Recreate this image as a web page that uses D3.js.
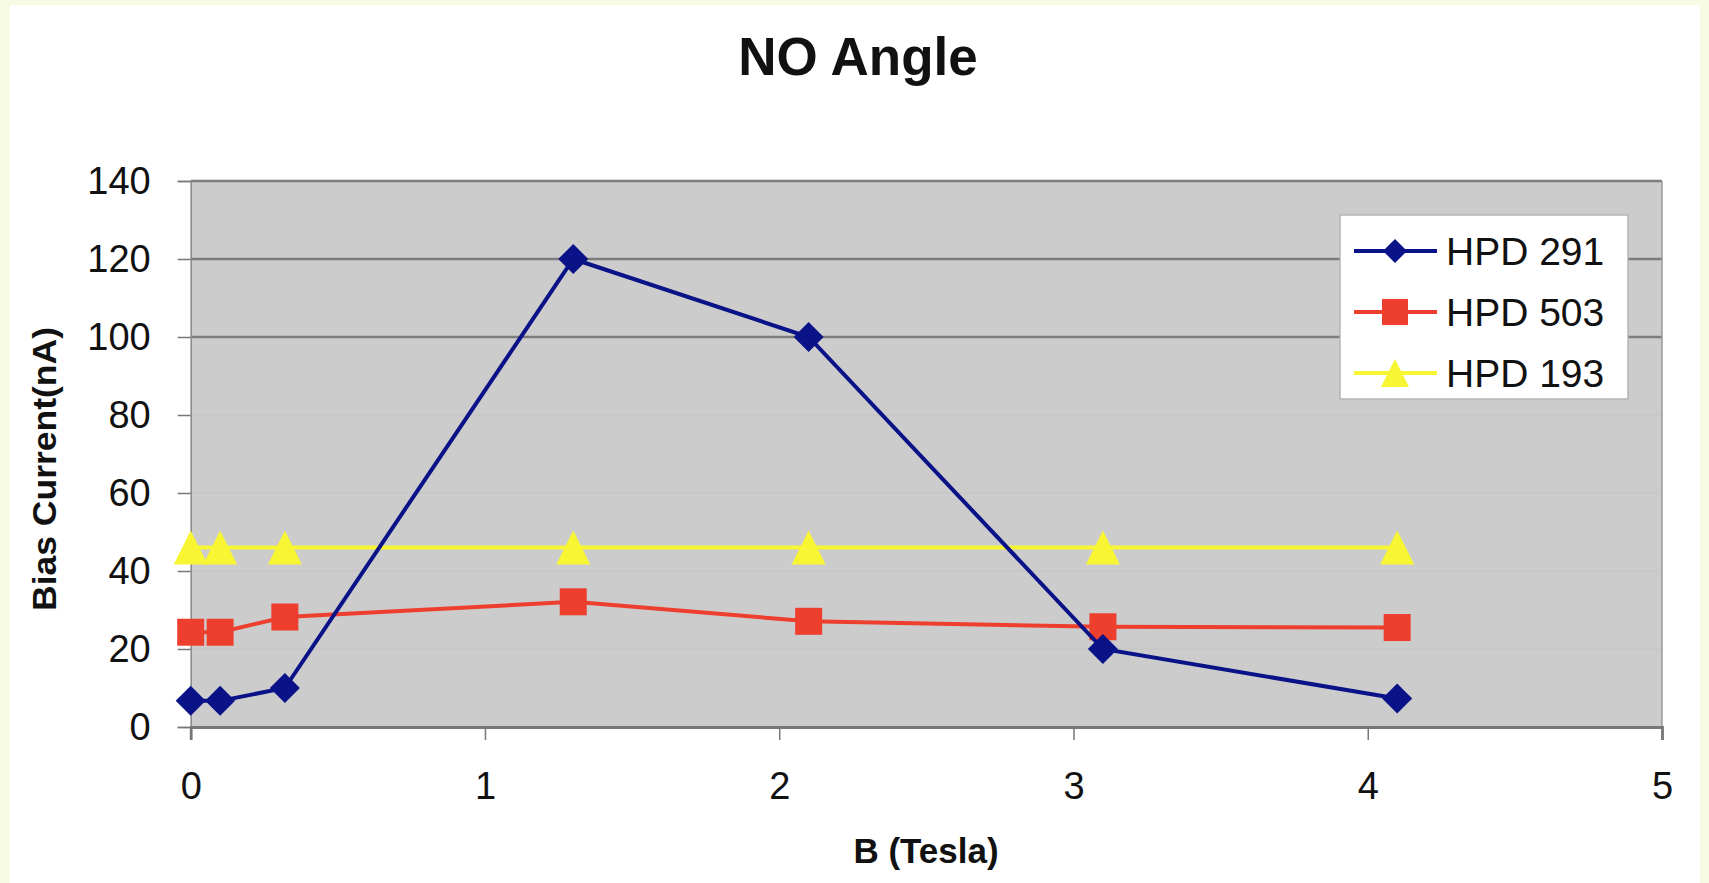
<!DOCTYPE html>
<html><head><meta charset="utf-8">
<script src="https://cdn.jsdelivr.net/npm/d3@7"></script>
<style>
body{margin:0;background:#f8fbe4;}
svg{display:block;}
text{font-family:"Liberation Sans",Arial,Helvetica,sans-serif;fill:#111;}
</style>
</head><body>
<svg id="c" width="1709" height="883"></svg>
<script>
// ---- data ----
const fieldB = [0, 0.1, 0.32, 1.3, 2.1, 3.1, 4.1];
const hpd291 = [6.7, 6.7, 10, 120, 100, 20, 7.3];
const hpd503 = [24.3, 24.3, 28.2, 32.1, 27.1, 25.7, 25.5];
const hpd193 = [46, 46, 46, 46, 46, 46, 46];
const seriesNames = ["HPD 291", "HPD 503", "HPD 193"];
const xTickValues = [0, 1, 2, 3, 4, 5];
const yTickValues = [0, 20, 40, 60, 80, 100, 120, 140];
const titleText = "NO Angle";
const xLabel = "B (Tesla)";
const yLabel = "Bias Current(nA)";

// ---- layout ----
const svg = d3.select("#c");
const W = 1709, H = 883;
const plot = {left: 190.7, right: 1662, top: 181, bottom: 727};
const x = d3.scaleLinear().domain([0, 5]).range([plot.left, plot.right]);
const y = d3.scaleLinear().domain([0, 140]).range([plot.bottom, plot.top]);

// chart area background
svg.append("rect").attr("x", 10).attr("y", 5).attr("width", 1690).attr("height", H - 5).attr("fill", "#ffffff");

// plot background
svg.append("rect").attr("x", plot.left).attr("y", plot.top)
  .attr("width", plot.right - plot.left).attr("height", plot.bottom - plot.top)
  .attr("fill", "#cccccc");

// gridlines
svg.append("g").selectAll("line").data(yTickValues.filter(v => v > 0)).join("line")
  .attr("x1", plot.left).attr("x2", plot.right)
  .attr("y1", d => y(d)).attr("y2", d => y(d))
  .attr("stroke", d => d >= 100 ? "#7c7c7c" : "#c3c3c3")
  .attr("stroke-width", d => d >= 100 ? 2.4 : 1.2);

// right border
svg.append("line").attr("x1", plot.right).attr("x2", plot.right)
  .attr("y1", plot.top).attr("y2", plot.bottom).attr("stroke", "#9a9a9a").attr("stroke-width", 1.5);

// axes
const yAxis = d3.axisLeft(y).tickValues(yTickValues).tickSize(13).tickPadding(27).tickFormat(d3.format("d"));
const gy = svg.append("g").attr("transform", `translate(${plot.left},0)`).call(yAxis);
gy.select(".domain").attr("stroke", "#8a8a8a").attr("stroke-width", 1.5);
gy.selectAll(".tick line").attr("stroke", "#777").attr("stroke-width", 1.5);
gy.selectAll(".tick text").style("font-size", "38px").attr("fill", "#111")
  .style("font-family", '"Liberation Sans",Arial,sans-serif');

const xAxis = d3.axisBottom(x).tickValues(xTickValues).tickSize(13).tickPadding(32).tickFormat(d3.format("d"));
const gx = svg.append("g").attr("transform", `translate(0,${plot.bottom})`).call(xAxis);
gx.select(".domain").attr("stroke", "#777").attr("stroke-width", 2.8);
gx.selectAll(".tick line").attr("stroke", "#777").attr("stroke-width", 1.5);
gx.selectAll(".tick text").style("font-size", "38px").attr("fill", "#111")
  .style("font-family", '"Liberation Sans",Arial,sans-serif');

// titles
svg.append("text").attr("x", 858).attr("y", 75).attr("text-anchor", "middle")
  .style("font-size", "53px").style("font-weight", "bold").text(titleText);
svg.append("text").attr("x", 926).attr("y", 863).attr("text-anchor", "middle")
  .style("font-size", "35px").style("font-weight", "bold").text(xLabel);
svg.append("text").attr("transform", "translate(56,469) rotate(-90)").attr("text-anchor", "middle")
  .style("font-size", "34px").style("font-weight", "bold")
  .attr("textLength", 284).attr("lengthAdjust", "spacingAndGlyphs").text(yLabel);

// markers
const diamondPath = (s) => `M0,${-s}L${s},0L0,${s}L${-s},0Z`;
const squarePath = (s) => `M${-s},${-s}H${s}V${s}H${-s}Z`;
const trianglePath = (s) => `M0,${-s}L${s},${s}L${-s},${s}Z`;

const series = [
  {name: seriesNames[0], values: hpd291, color: "#0a1288", marker: diamondPath(15), lmarker: diamondPath(12)},
  {name: seriesNames[1], values: hpd503, color: "#ee3e2e", marker: squarePath(13.5), lmarker: squarePath(13)},
  {name: seriesNames[2], values: hpd193, color: "#f8f633", marker: trianglePath(17), lmarker: trianglePath(14)}
];

const line = d3.line().x(d => x(d[0])).y(d => y(d[1]));
// draw in reverse so HPD 291 is on top
[...series].reverse().forEach(s => {
  const pts = fieldB.map((b, i) => [b, s.values[i]]);
  const g = svg.append("g");
  g.append("path").datum(pts).attr("d", line).attr("fill", "none")
    .attr("stroke", s.color).attr("stroke-width", 4);
  g.selectAll("path.m").data(pts).join("path").attr("class", "m")
    .attr("transform", d => `translate(${x(d[0])},${y(d[1])})`)
    .attr("d", s.marker).attr("fill", s.color);
});

// legend
const lg = svg.append("g");
lg.append("rect").attr("x", 1340).attr("y", 215).attr("width", 288).attr("height", 184)
  .attr("fill", "#ffffff").attr("stroke", "#b5b5b5").attr("stroke-width", 1.5);
const legendY = d3.scalePoint().domain(seriesNames).range([251, 373]);
series.forEach(s => {
  const yy = legendY(s.name);
  lg.append("line").attr("x1", 1354).attr("x2", 1437).attr("y1", yy).attr("y2", yy)
    .attr("stroke", s.color).attr("stroke-width", 4);
  lg.append("path").attr("transform", `translate(1395,${yy})`).attr("d", s.lmarker).attr("fill", s.color);
  lg.append("text").attr("x", 1446).attr("y", yy + 14).style("font-size", "39px").text(s.name);
});
</script>
</body></html>
